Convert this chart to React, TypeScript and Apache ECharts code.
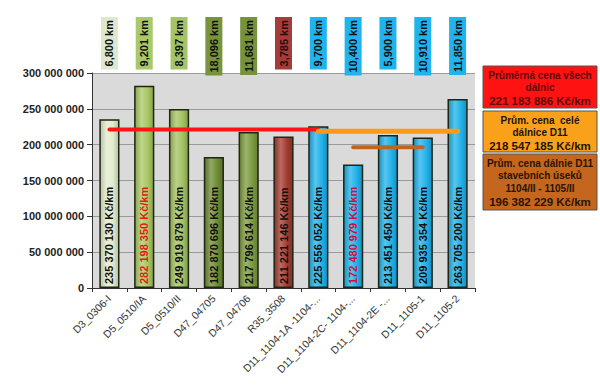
import React, { useEffect, useRef } from "react";
import * as echarts from "echarts";

// ---------- data ----------
const categories = [
  "D3_0306-I",
  "D5_0510/IA",
  "D5_0510/II",
  "D47_04705",
  "D47_04706",
  "R35_3508",
  "D11_1104-1A -1104-...",
  "D11_1104-2C- 1104-...",
  "D11_1104-2E -...",
  "D11_1105-1",
  "D11_1105-2",
];
const costPerKm = [
  235370130, 282198350, 249919879, 182870696, 217796614, 211221146,
  225556052, 172480979, 213451450, 209935354, 263705200,
];
const lengthsKm = [6.8, 9.201, 8.397, 18.096, 11.681, 3.785, 9.7, 10.4, 5.9, 10.91, 11.85];

const avgValues = [221183886, 218547185, 196382229];
const avgFrom = [0, 6, 7];
const avgTo = [6, 10, 9];
const avgTitles = [
  ["Průměrná cena všech", "dálnic"],
  ["Prům. cena  celé", "dálnice D11"],
  ["Prům. cena dálnie D11", "stavebních úseků", "1104/II - 1105/II"],
];

const yMin = 0;
const yMax = 300000000;
const yStep = 50000000;

// ---------- styles ----------
const FONT = "Arial, 'Liberation Sans', sans-serif";
const barColors = [
  "#e2ebcc", "#a9c864", "#a3c262", "#6d8b33", "#7c9b3e", "#a3392f",
  "#20b1ea", "#20b1ea", "#20b1ea", "#20b1ea", "#20b1ea",
];
const kmBoxColors = [
  "#dfe8cf", "#a8c86a", "#a5c46a", "#77933c", "#76923c", "#a43c3a",
  "#1fb4ee", "#1fb4ee", "#1fb4ee", "#1fb4ee", "#1fb4ee",
];
const barLabelColors = [
  "#111", "#e0200f", "#111", "#111", "#111", "#111",
  "#111", "#c8103a", "#111", "#111", "#111",
];
const avgLineColors = ["#ff1414", "#ff9a18", "#c0651e"];
const avgBoxColors = ["#ff1212", "#f9a11b", "#c4661d"];
const avgTextColors = ["#5a0d0d", "#1e1405", "#2a1406"];

const fmt = (n: number) => String(n).replace(/\B(?=(\d{3})+(?!\d))/g, " ");
const fmtKm = (n: number) => n.toFixed(3).replace(".", ",") + " km";

function shade(hex: string, f: number) {
  const h = hex.replace("#", "");
  const r = parseInt(h.slice(0, 2), 16);
  const g = parseInt(h.slice(2, 4), 16);
  const b = parseInt(h.slice(4, 6), 16);
  const adj = (c: number) =>
    Math.max(0, Math.min(255, Math.round(f >= 0 ? c + (255 - c) * f : c * (1 + f))));
  return `rgb(${adj(r)},${adj(g)},${adj(b)})`;
}

function barGradient(c: string) {
  return new echarts.graphic.LinearGradient(0, 0, 1, 0, [
    { offset: 0, color: shade(c, -0.18) },
    { offset: 0.35, color: shade(c, 0.25) },
    { offset: 0.7, color: c },
    { offset: 1, color: shade(c, -0.2) },
  ]);
}

export default function App() {
  const ref = useRef<HTMLDivElement>(null);

  useEffect(() => {
    if (!ref.current) return;
    const chart = echarts.init(ref.current, undefined, { renderer: "svg" });

    const rich: Record<string, any> = {};
    kmBoxColors.forEach((c, i) => {
      rich["k" + i] = {
        backgroundColor: c,
        color: i === 5 ? "#2a0a0a" : "#111",
        fontWeight: "bold",
        fontSize: 11,
        fontFamily: FONT,
        padding: [3, 3, 3, 3],
      };
    });

    const lineSeries = avgValues.map((v, k) => ({
      type: "line",
      name: "avg" + k,
      xAxisIndex: 0,
      yAxisIndex: 0,
      data: categories.map((_, i) => (i >= avgFrom[k] && i <= avgTo[k] ? v : "-")),
      symbol: "none",
      z: 5 + k,
      silent: true,
      lineStyle: {
        color: avgLineColors[k],
        width: k === 1 ? 5 : 4,
        cap: "round",
      },
    }));

    const boxX = 483;
    const boxW = 114;
    const boxTops = [66, 111, 154];
    const boxHeights = [42, 41, 56];
    const graphics: any[] = [];
    avgValues.forEach((v, k) => {
      graphics.push({
        type: "rect",
        shape: { x: boxX, y: boxTops[k], width: boxW, height: boxHeights[k] },
        style: { fill: avgBoxColors[k], stroke: "#555", lineWidth: 1 },
      });
      const lines = avgTitles[k].map((t) => `{a|${t}}`).join("\n") + `\n{b|${fmt(v)} Kč/km}`;
      graphics.push({
        type: "text",
        x: boxX + boxW / 2,
        y: boxTops[k] + 3,
        style: {
          text: lines,
          align: "center",
          verticalAlign: "top",
          fill: avgTextColors[k],
          rich: {
            a: {
              fontSize: 10,
              fontWeight: "bold",
              fontFamily: FONT,
              lineHeight: 12.5,
              fill: avgTextColors[k],
              align: "center",
            },
            b: {
              fontSize: 11.5,
              fontWeight: "bold",
              fontFamily: FONT,
              lineHeight: 14,
              fill: avgTextColors[k],
              align: "center",
            },
          },
        },
      });
    });

    chart.setOption({
      animation: false,
      backgroundColor: "#ffffff",
      textStyle: { fontFamily: FONT },
      grid: {
        left: 92,
        right: 125,
        top: 73,
        bottom: 97,
        show: true,
        backgroundColor: "#dadada",
        borderWidth: 0,
        containLabel: false,
        outerBoundsMode: "none",
      },
      xAxis: [
        {
          type: "category",
          data: categories,
          position: "bottom",
          axisLine: { show: true, lineStyle: { color: "#333", width: 1 } },
          axisTick: { show: true, length: 4, lineStyle: { color: "#333" } },
          axisLabel: {
            interval: 0,
            rotate: 45,
            fontSize: 10.5,
            color: "#333",
            fontFamily: FONT,
            margin: 9,
          },
        },
        {
          type: "category",
          data: categories,
          position: "top",
          axisLine: { show: false },
          axisTick: { show: false },
          axisLabel: {
            interval: 0,
            rotate: -90,
            margin: 56,
            align: "right",
            verticalAlign: "middle",
            formatter: (_: string, i: number) => `{k${i}|${fmtKm(lengthsKm[i])}}`,
            rich,
          },
        },
      ],
      yAxis: {
        type: "value",
        min: yMin,
        max: yMax,
        interval: yStep,
        axisLine: { show: true, lineStyle: { color: "#333" } },
        axisTick: { show: true, length: 5, lineStyle: { color: "#333" } },
        splitLine: { show: true, lineStyle: { color: "#9a9a9a", width: 1 } },
        axisLabel: {
          formatter: (v: number) => fmt(v),
          fontSize: 11,
          fontWeight: "bold",
          color: "#222",
          fontFamily: FONT,
          margin: 8,
        },
      },
      series: [
        {
          type: "bar",
          xAxisIndex: 0,
          yAxisIndex: 0,
          barWidth: "58%",
          z: 2,
          data: costPerKm.map((v, i) => ({
            value: v,
            itemStyle: {
              color: barGradient(barColors[i]),
              borderColor: "#1e2614",
              borderWidth: 1.5,
            },
            label: { color: barLabelColors[i] },
          })),
          label: {
            show: true,
            position: "insideBottom",
            distance: 4,
            rotate: 90,
            align: "left",
            verticalAlign: "middle",
            fontSize: 11,
            fontWeight: "bold",
            fontFamily: FONT,
            formatter: (p: any) => `${fmt(p.value)} Kč/km`,
          },
        },
        ...lineSeries,
      ],
      graphic: graphics,
    });

    return () => chart.dispose();
  }, []);

  return (
    <div
      ref={ref}
      style={{ position: "fixed", left: 0, top: 0, width: 600, height: 385 }}
    />
  );
}
